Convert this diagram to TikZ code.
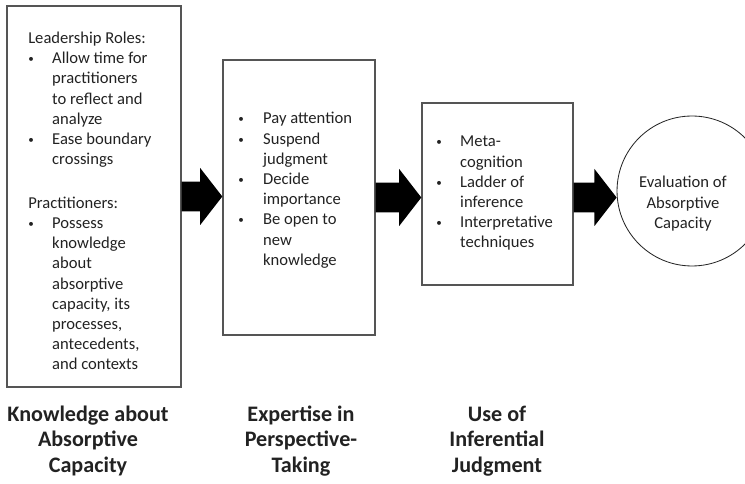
\documentclass[tikz,border=0pt]{standalone}
\usepackage{fontspec}
\setmainfont{Carlito}
\usetikzlibrary{calc, fit}
\definecolor{myline}{HTML}{555555}
\definecolor{mytext}{HTML}{222222}

\begin{document}
\begin{tikzpicture}[
    x=0.0254cm, y=-0.0254cm, % one unit = one pixel, y runs downwards
    every node/.style={text=mytext},
    panel/.style={draw=myline, line width=1pt, inner sep=0pt},
    list text/.style={anchor=base west, inner sep=0pt, font=\fontsize{12}{14.6}\selectfont},
    stage label/.style={anchor=base, inner sep=0pt, font=\fontsize{16}{18.6}\selectfont\bfseries},
    goal/.style={draw=black!85, line width=0.6pt, circle, minimum size=108.4pt, inner sep=0pt},
    arrow fill/.style={fill=black}
]

    % --- canvas ---
    \useasboundingbox (0,0) rectangle (745,484);
    \clip (0,0) rectangle (745,484);

    % small bullet and the block arrow between two stages
    \def\bul{\raisebox{0.15ex}{\footnotesize\textbullet}}
    \def\blockarrow#1#2{
        \fill[arrow fill] let \p1=(#1), \p2=(#2) in
            (\x1,\y1+10.8pt) -- (\x2-16pt,\y1+10.8pt) -- (\x2-16pt,\y1+20.6pt)
            -- (\x2,\y1) -- (\x2-16pt,\y1-20.6pt) -- (\x2-16pt,\y1-10.8pt)
            -- (\x1,\y1-10.8pt) -- cycle;
    }

    % --- stage boxes ---
    \node[panel, fit={(7,6) (181,387)}] (know) {};
    \node[panel, fit={(223,60) (375,335)}] (persp) {};
    \node[panel, fit={(422,103) (573,285)}] (infer) {};
    \node[goal] (eval) at (692,191) {};

    % --- box contents ---
    \node[list text] (know-list) at (28,43.5) {%
        \begin{tabular}[t]{@{}p{17.3pt}@{}l@{}}
            \multicolumn{2}{@{}l@{}}{Leadership Roles:}\\
            \bul & Allow time for\\
                 & practitioners\\
                 & to reflect and\\
                 & analyze\\
            \bul & Ease boundary\\
                 & crossings\\[17pt]
            \multicolumn{2}{@{}l@{}}{Practitioners:}\\
            \bul & Possess\\
                 & knowledge\\
                 & about\\
                 & absorptive\\
                 & capacity, its\\
                 & processes,\\
                 & antecedents,\\
                 & and contexts
        \end{tabular}};

    \node[list text] (persp-list) at (238,124) {%
        \begin{tabular}[t]{@{}p{18pt}@{}l@{}}
            \bul & Pay attention\\
            \bul & Suspend\\
                 & judgment\\
            \bul & Decide\\
                 & importance\\
            \bul & Be open to\\
                 & new\\
                 & knowledge
        \end{tabular}};

    \node[list text] (infer-list) at (436,147) {%
        \begin{tabular}[t]{@{}p{17.3pt}@{}l@{}}
            \bul & Meta-\\
                 & cognition\\
            \bul & Ladder of\\
                 & inference\\
            \bul & Interpretative\\
                 & techniques
        \end{tabular}};

    \node[list text, anchor=base] (eval-text) at (683,188) {%
        \begin{tabular}[t]{@{}c@{}}
            Evaluation of\\ Absorptive\\ Capacity
        \end{tabular}};

    % --- arrows between the stages ---
    \blockarrow{know.east}{persp.west}
    \blockarrow{persp.east}{infer.west}
    \blockarrow{infer.east |- persp.east}{eval.west |- persp.east}

    % --- stage captions ---
    \node[stage label] (know-label) at (88,421) {%
        \begin{tabular}[t]{@{}c@{}}Knowledge about\\ Absorptive\\ Capacity\end{tabular}};
    \node[stage label] (persp-label) at (301,421) {%
        \begin{tabular}[t]{@{}c@{}}Expertise in\\ Perspective-\\ Taking\end{tabular}};
    \node[stage label] (infer-label) at (497,421) {%
        \begin{tabular}[t]{@{}c@{}}Use of\\ Inferential\\ Judgment\end{tabular}};

\end{tikzpicture}
\end{document}
